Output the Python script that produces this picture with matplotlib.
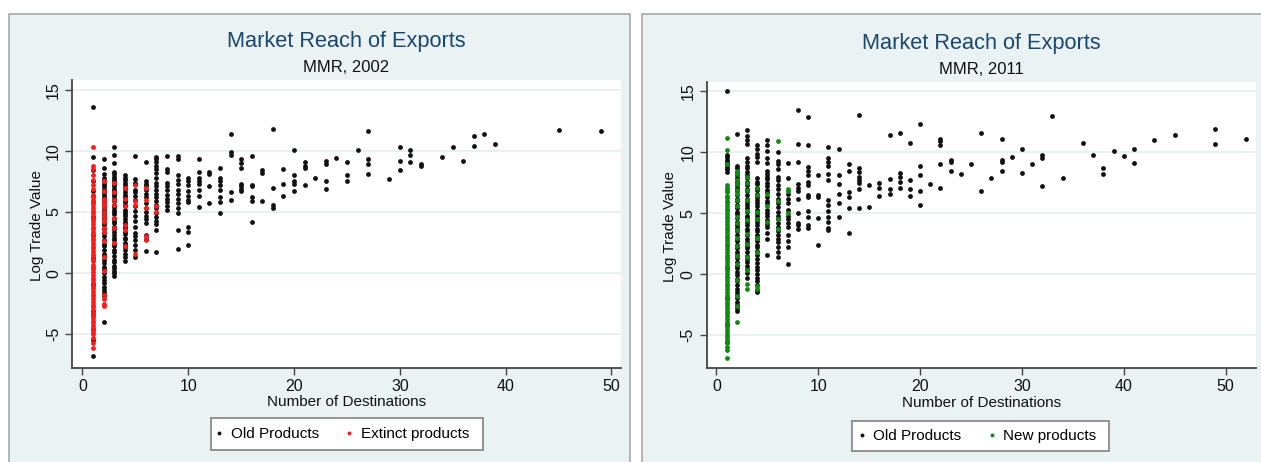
import matplotlib
matplotlib.use("Agg")
import matplotlib.pyplot as plt
from matplotlib.patches import Rectangle
from matplotlib.lines import Line2D

plt.rcParams["font.family"] = ["Liberation Sans", "DejaVu Sans"]

# ---- data: log trade value of each product, grouped by number of destinations ----
old_2002 = {
    1: [13.6, 9.5, 8.4, 7.5, 6.75, 6.3, 5.8, 4.6, 3.1, 1.2, -0.9, -3.1, -3.4, -4.6, -5.5, -6.8],
    2: [9.3, 8.6, 8.1, 7.8, 7.5, 7.3, 7.1, 6.9, 6.6, 6.4, 6.2, 6.0, 5.8, 5.5, 5.3, 5.1, 4.8,
        4.6, 4.4, 4.1, 3.9, 3.6, 3.3, 3.0, 2.7, 2.4, 2.2, 1.9, 1.6, 1.4, 1.1, 0.8, 0.5, 0.3,
        0.0, -0.3, -0.6, -0.8, -1.1, -1.4, -1.6, -1.9, -4.0],
    3: [10.3, 9.7, 9.0, 8.3, 8.1, 7.9, 7.7, 7.5, 7.3, 7.1, 6.9, 6.7, 6.5, 6.3, 6.1, 5.9, 5.6,
        5.4, 5.2, 5.0, 4.8, 4.5, 4.3, 4.1, 3.8, 3.6, 3.4, 3.1, 2.9, 2.7, 2.4, 2.2, 1.9, 1.7,
        1.4, 1.1, 0.9, 0.6, 0.4, 0.2, 0.0, -0.2],
    4: [8.0, 7.8, 7.65, 7.4, 7.2, 7.0, 6.85, 6.6, 6.4, 6.25, 6.0, 5.8, 5.6, 5.45, 5.2, 5.0,
        4.8, 4.65, 4.4, 4.2, 4.0, 3.8, 3.65, 3.4, 3.2, 2.9, 2.75, 2.5, 2.3, 2.1, 1.9, 1.6,
        1.3, 1.0],
    5: [9.6, 7.7, 7.4, 7.3, 6.8, 6.6, 6.3, 6.0, 5.5, 5.1, 4.7, 4.3, 3.8, 3.3, 3.0, 2.7, 2.3,
        1.9, 1.3],
    6: [9.1, 7.5, 7.3, 7.1, 6.8, 6.5, 6.2, 5.7, 5.3, 5.0, 4.7, 4.4, 4.1, 3.1, 2.8, 1.8],
    7: [9.5, 9.3, 9.1, 8.8, 8.5, 8.2, 7.8, 7.4, 7.1, 6.8, 6.5, 6.2, 5.9, 5.6, 5.3, 4.9, 4.6,
        4.3, 4.0, 3.5, 1.7],
    8: [9.6, 8.5, 8.3, 7.4, 7.1, 6.8, 6.4, 6.1, 5.8, 5.5, 5.2],
    9: [9.6, 9.3, 8.0, 7.6, 7.3, 6.8, 6.5, 6.1, 5.7, 5.3, 4.9, 3.5, 2.0],
    10: [7.8, 7.5, 7.2, 6.7, 6.3, 6.0, 5.8, 3.8, 3.4, 2.3],
    11: [9.3, 8.3, 7.8, 7.5, 7.3, 6.8, 6.3, 5.4],
    12: [8.3, 8.1, 7.1, 5.7],
    13: [8.6, 7.8, 7.5, 7.2, 6.8, 6.2, 5.8, 4.9],
    14: [11.4, 9.9, 9.7, 6.6, 6.0],
    15: [9.3, 9.0, 8.6, 7.3, 7.1, 6.9, 6.7],
    16: [9.6, 7.2, 7.1, 6.2, 5.9, 4.2],
    17: [8.4, 8.2, 5.9],
    18: [11.8, 7.0, 5.6, 5.3],
    19: [8.5, 7.3, 6.3],
    20: [10.1, 8.0, 7.5, 7.3, 6.7],
    21: [9.1, 8.8, 8.6, 7.2],
    22: [7.8],
    23: [9.2, 8.9, 7.5, 6.9],
    24: [9.4],
    25: [9.1, 8.0, 7.5],
    26: [10.1],
    27: [11.6, 9.3, 8.9, 8.1],
    29: [7.7],
    30: [10.3, 9.2, 8.4],
    31: [10.1, 9.7, 9.1],
    32: [8.9, 8.8],
    34: [9.5],
    35: [10.3],
    36: [9.2],
    37: [11.2, 10.4],
    38: [11.4],
    39: [10.6],
    45: [11.7],
    49: [11.6],
}

extinct_2002 = {
    1: [10.35, 8.8, 8.5, 8.0, 7.6, 7.2, 6.9, 6.4, 6.2, 6.0, 5.8, 5.55, 5.35, 5.1, 4.9, 4.7,
        4.45, 4.25, 4.0, 3.8, 3.6, 3.35, 3.15, 2.9, 2.7, 2.5, 2.25, 2.05, 1.8, 1.6, 1.4, 1.15,
        0.95, 0.7, 0.5, 0.3, 0.05, -0.15, -0.4, -0.6, -0.8, -1.05, -1.25, -1.5, -1.7, -1.9,
        -2.15, -2.35, -2.6, -2.8, -3.0, -3.25, -3.45, -3.7, -3.9, -4.1, -4.35, -4.55, -4.8,
        -5.0, -5.3, -5.7, -6.1],
    2: [7.5, 6.7, 6.1, 5.9, 5.6, 5.4, 5.0, 4.7, 4.5, 4.2, 3.7, 3.4, 2.6, 1.3, 0.2, -1.8,
        -2.1, -2.5, -2.7],
    3: [7.4, 6.6, 6.0, 5.6, 4.5, 3.7, 2.5],
    4: [7.0, 6.1, 5.5, 3.9, 3.5, 2.2],
    5: [7.2, 5.9, 5.6, 1.6],
    6: [7.0, 6.0, 5.3, 3.0, 2.7],
    7: [5.5, 5.0],
}

old_2011 = {
    1: [15.0, 9.8, 9.6, 9.4, 9.2, 9.0, 8.8, 8.6, 8.4, 0.5, -2.0, -4.2, -5.6],
    2: [11.5, 8.9, 8.7, 8.4, 8.1, 7.9, 7.6, 7.3, 7.1, 6.8, 6.5, 6.2, 6.0, 5.7, 5.4, 5.1, 4.9,
        4.6, 4.3, 4.0, 3.8, 3.5, 3.2, 2.9, 2.7, 2.4, 2.1, 1.8, 1.6, 1.3, 1.0, 0.7, 0.5, 0.2,
        -0.1, -0.4, -0.6, -0.9, -1.2, -1.5, -1.7, -2.0, -2.3, -2.5, -2.8, -3.0],
    3: [11.8, 11.3, 11.0, 10.7, 9.5, 9.2, 8.9, 8.7, 8.4, 8.1, 7.9, 7.6, 7.3, 7.0, 6.8, 6.5,
        6.2, 5.9, 5.7, 5.4, 5.1, 4.8, 4.6, 4.3, 4.0, 3.7, 3.5, 3.2, 2.9, 2.6, 2.3, 2.1, 1.8,
        1.5, 1.2, 1.0, 0.7, 0.4, 0.1, -0.3],
    4: [10.6, 10.3, 9.9, 9.6, 9.2, 7.9, 7.6, 7.4, 7.1, 6.9, 6.6, 6.3, 6.1, 5.8, 5.6, 5.3,
        5.0, 4.8, 4.5, 4.3, 4.0, 3.7, 3.5, 3.2, 3.0, 2.7, 2.4, 2.2, 1.9, 1.6, 1.2, 0.9, 0.6,
        0.3, 0.0, -0.3, -0.6, -0.9, -1.3, -1.5],
    5: [11.0, 10.6, 10.1, 9.5, 9.1, 8.5, 8.2, 8.0, 7.8, 7.5, 7.2, 6.9, 6.7, 6.3, 6.0, 5.8,
        5.3, 5.0, 4.8, 4.4, 4.1, 3.9, 3.4, 2.9, 1.6],
    6: [10.0, 9.3, 9.0, 8.6, 8.0, 7.7, 7.3, 7.0, 6.6, 6.2, 5.8, 5.5, 5.1, 4.8, 4.5, 4.2,
        3.9, 3.5, 3.2, 2.9, 2.6, 2.2, 1.8, 1.4],
    7: [9.1, 7.9, 6.6, 6.2, 5.8, 5.3, 4.8, 4.5, 4.2, 3.9, 3.2, 2.7, 2.2, 0.8],
    8: [13.5, 10.7, 9.2, 7.4, 7.1, 6.8, 6.2, 5.0, 4.2, 4.0, 3.7],
    9: [12.9, 10.6, 8.8, 8.5, 8.1, 7.6, 7.3, 6.5, 6.3, 5.2, 4.7, 4.0, 3.8],
    10: [8.1, 6.5, 6.3, 4.6, 2.4],
    11: [10.4, 9.5, 9.2, 8.9, 8.2, 7.7, 6.1, 5.7, 5.2, 4.7, 4.3, 3.8, 3.6],
    12: [10.3, 8.1, 7.4, 6.6, 5.8, 4.7],
    13: [9.0, 8.5, 6.7, 6.3, 5.4, 3.4],
    14: [13.1, 8.7, 8.4, 8.0, 7.7, 7.5, 7.0, 5.4],
    15: [7.3, 5.5],
    16: [7.5, 7.1, 6.4],
    17: [11.4, 7.8, 7.0, 6.6],
    18: [11.6, 8.3, 8.0, 7.6, 7.1],
    19: [10.8, 7.7, 7.0, 6.4],
    20: [12.3, 8.9, 8.1, 6.8, 5.7],
    21: [7.4],
    22: [11.1, 10.9, 10.6, 9.0, 7.1],
    23: [9.4, 9.2, 8.5],
    24: [8.2],
    25: [9.0],
    26: [11.6, 6.8],
    27: [7.9],
    28: [11.1, 9.4, 9.2, 8.5],
    29: [9.6],
    30: [10.3, 8.3],
    31: [9.0],
    32: [9.8, 9.5, 7.2],
    33: [13.0],
    34: [7.9],
    36: [10.8],
    37: [9.8],
    38: [8.7, 8.2],
    39: [10.1],
    40: [9.7],
    41: [10.3, 9.1],
    43: [11.0],
    45: [11.4],
    49: [11.9, 10.7],
    52: [11.1],
}

new_2011 = {
    1: [11.2, 10.2, 9.0, 7.3, 7.1, 6.9, 6.7, 6.45, 6.25, 6.0, 5.8, 5.6, 5.35, 5.15, 4.9, 4.7,
        4.5, 4.25, 4.05, 3.8, 3.6, 3.4, 3.15, 2.95, 2.7, 2.5, 2.3, 2.05, 1.85, 1.6, 1.4, 1.2,
        0.95, 0.75, 0.5, 0.3, 0.1, -0.15, -0.35, -0.6, -0.8, -1.0, -1.25, -1.45, -1.7, -1.9,
        -2.1, -2.35, -2.55, -2.8, -3.0, -3.2, -3.45, -3.65, -3.9, -4.1, -4.3, -4.55, -4.75,
        -5.0, -5.2, -5.45, -5.65, -6.0, -6.2, -6.9],
    2: [8.5, 8.2, 7.7, 7.4, 6.9, 6.6, 6.1, 5.6, 4.7, 4.2, 3.6, 3.0, 2.3, 1.5, 0.8, -0.5,
        -1.8, -2.6, -3.9],
    3: [8.0, 7.5, 6.9, 6.1, 5.2, 4.4, 3.3, 2.5, 1.4, 0.3, -0.8, -1.2],
    4: [7.1, 6.5, 5.1, 4.5, 3.0, 1.8, -1.0, -1.2],
    5: [6.6, 5.6, 4.3],
    6: [10.9, 6.0, 4.5, 3.7],
    7: [7.0, 6.8, 5.0],
}

y_ticks = [-5, 0, 5, 10, 15]
x_ticks = [0, 10, 20, 30, 40, 50]

# ---- styling ----
W, H = 1261, 462
REGION = "#EAF2F3"
GRID = "#E6EFF1"
TITLE_C = "#1A476F"
FRAME_C = "#A8A8A8"
AXIS_C = "#444444"
BLACK = "#111111"
RED = "#FF1A1A"
GREEN = "#118A11"

fig = plt.figure(figsize=(W / 100, H / 100), dpi=100)
fig.patch.set_facecolor("white")


def fx(px):
    return px / W


def fy(py):
    return 1 - py / H


def flatten(groups):
    xs, ys = [], []
    for d, vals in groups.items():
        xs.extend([d] * len(vals))
        ys.extend(vals)
    return xs, ys


panels = [
    dict(frame=(9, 630), ax=(72.3, 80.0, 620.7, 367.7), xlim=(-0.95, 50.87),
         title_y=(42, 68), sub="MMR, 2002", old=old_2002, other=extinct_2002,
         color=RED, other_label="Extinct products", ylab_x=37, xlab_y=402,
         leg=(211, 418, 483, 450), leg_cx=341),
    dict(frame=(642, 1275), ax=(706.5, 81.7, 1255.7, 368.3), xlim=(-0.98, 52.96),
         title_y=(43.3, 69), sub="MMR, 2011", old=old_2011, other=new_2011,
         color=GREEN, other_label="New products", ylab_x=670, xlab_y=403,
         leg=(852, 421, 1109, 451), leg_cx=976),
]

for p in panels:
    fl, fr = p["frame"]
    fig.patches.append(Rectangle((fx(fl), fy(475)), fx(fr - fl), fy(14) - fy(475),
                                 transform=fig.transFigure, facecolor=REGION,
                                 edgecolor=FRAME_C, linewidth=1.2, zorder=-10))
    l, t, r, b = p["ax"]
    ax = fig.add_axes([fx(l), fy(b), fx(r - l), fy(t) - fy(b)])
    ax.set_facecolor("white")
    ax.set_xlim(*p["xlim"])
    ax.set_ylim(-7.74, 15.8)
    ax.set_yticks(y_ticks)
    ax.set_xticks(x_ticks)
    ax.set_yticklabels([str(v) for v in y_ticks], rotation=90, va="center")
    ax.tick_params(axis="both", length=5, width=1.0, color=AXIS_C, labelsize=11.5,
                   labelcolor="#111111", pad=3)
    for s in ("top", "right"):
        ax.spines[s].set_visible(False)
    for s in ("left", "bottom"):
        ax.spines[s].set_color(AXIS_C)
        ax.spines[s].set_linewidth(1.3)
    ax.grid(axis="y", color=GRID, linewidth=1.3)
    ax.set_axisbelow(True)

    xo, yo = flatten(p["old"])
    ax.scatter(xo, yo, s=12, color=BLACK, linewidths=0, zorder=3, clip_on=False)
    xn, yn = flatten(p["other"])
    ax.scatter(xn, yn, s=12, color=p["color"], linewidths=0, zorder=4, clip_on=False)

    cx = (l + r) / 2
    fig.text(fx(cx), fy(p["title_y"][0]), "Market Reach of Exports", ha="center",
             va="center", fontsize=15.7, color=TITLE_C)
    fig.text(fx(cx), fy(p["title_y"][1]), p["sub"], ha="center", va="center",
             fontsize=12, color="#111111")
    fig.text(fx(cx), fy(p["xlab_y"]), "Number of Destinations", ha="center",
             va="center", fontsize=11, color="#111111")
    fig.text(fx(p["ylab_x"]), fy((t + b) / 2 + 2), "Log Trade Value", ha="center",
             va="center", rotation=90, fontsize=11, color="#111111")

    # legend box
    ll, lt, lr, lb = p["leg"]
    fig.patches.append(Rectangle((fx(ll), fy(lb)), fx(lr - ll), fy(lt) - fy(lb),
                                 transform=fig.transFigure, facecolor="white",
                                 edgecolor="#8A8A8A", linewidth=1.3, zorder=2))
    handles = [Line2D([], [], marker="o", linestyle="none", markersize=2.8,
                      markerfacecolor=BLACK, markeredgewidth=0),
               Line2D([], [], marker="o", linestyle="none", markersize=2.8,
                      markerfacecolor=p["color"], markeredgewidth=0)]
    fig.legend(handles, ["Old Products", p["other_label"]], loc="center",
               bbox_to_anchor=(fx(p["leg_cx"]), fy((lt + lb) / 2)), ncol=2,
               frameon=False, fontsize=11, handlelength=0.8, handletextpad=0.35,
               columnspacing=1.6, borderpad=0.2)

fig.savefig("out.png", dpi=100, facecolor="white")
